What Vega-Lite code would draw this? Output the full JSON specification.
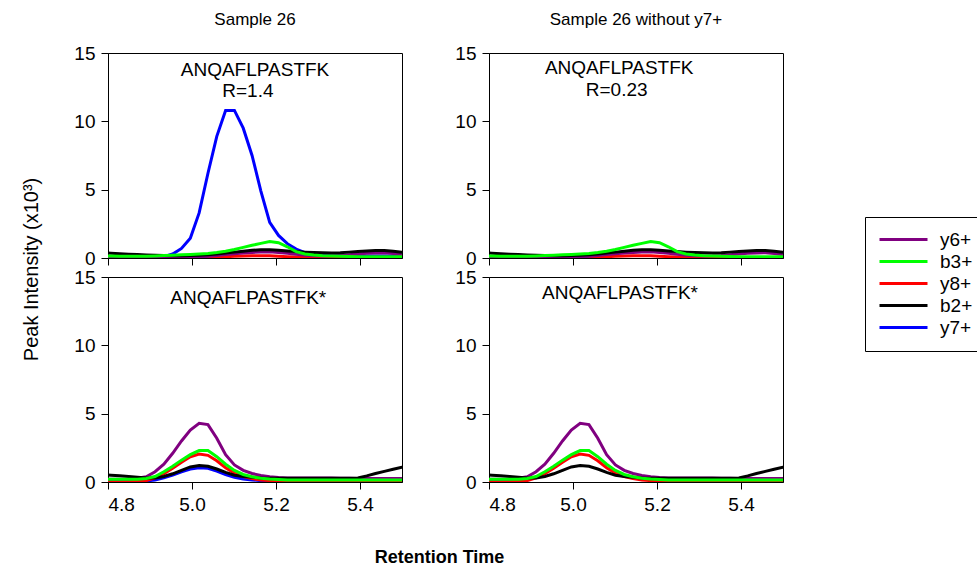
{
"$schema": "https://vega.github.io/schema/vega-lite/v6.json",
"padding": {"left": 20, "top": 10, "right": 0, "bottom": 5},
"background": "white",
"config": {
 "font": "Liberation Sans",
 "view": {"stroke": "black", "strokeWidth": 1},
 "axis": {"grid": false, "domainColor": "black", "tickColor": "black", "labelColor": "black", "titleColor": "black", "tickSize": 7, "labelFontSize": 19, "labelPadding": 6, "labelFont": "Liberation Sans", "titleFont": "Liberation Sans"},
 "title": {"fontSize": 17, "fontWeight": "normal", "font": "Liberation Sans", "color": "black", "offset": 15},
 "legend": {"orient": "none", "legendX": 757, "legendY": 164, "strokeColor": "black", "fillColor": "white", "padding": 13, "labelFontSize": 19, "labelFont": "Liberation Sans", "labelColor": "black", "symbolType": "M-1,0H5", "symbolSize": 256, "symbolStrokeWidth": 3, "labelOffset": 43, "rowPadding": 2, "cornerRadius": 0}
},
"data": {"values": [
{"pep":"light","ion":"y7+","t":4.786,"v":0.1},{"pep":"light","ion":"y7+","t":4.807,"v":0.08},{"pep":"light","ion":"y7+","t":4.828,"v":0.06},{"pep":"light","ion":"y7+","t":4.849,"v":0.05},{"pep":"light","ion":"y7+","t":4.870,"v":0.05},{"pep":"light","ion":"y7+","t":4.891,"v":0.05},{"pep":"light","ion":"y7+","t":4.912,"v":0.05},{"pep":"light","ion":"y7+","t":4.933,"v":0.1},{"pep":"light","ion":"y7+","t":4.954,"v":0.29},{"pep":"light","ion":"y7+","t":4.975,"v":0.7},{"pep":"light","ion":"y7+","t":4.996,"v":1.45},{"pep":"light","ion":"y7+","t":5.017,"v":3.3},{"pep":"light","ion":"y7+","t":5.038,"v":6.2},{"pep":"light","ion":"y7+","t":5.059,"v":8.9},{"pep":"light","ion":"y7+","t":5.080,"v":10.8},{"pep":"light","ion":"y7+","t":5.101,"v":10.8},{"pep":"light","ion":"y7+","t":5.122,"v":9.5},{"pep":"light","ion":"y7+","t":5.143,"v":7.5},{"pep":"light","ion":"y7+","t":5.164,"v":4.9},{"pep":"light","ion":"y7+","t":5.185,"v":2.6},{"pep":"light","ion":"y7+","t":5.206,"v":1.65},{"pep":"light","ion":"y7+","t":5.227,"v":1.05},{"pep":"light","ion":"y7+","t":5.248,"v":0.65},{"pep":"light","ion":"y7+","t":5.269,"v":0.4},{"pep":"light","ion":"y7+","t":5.290,"v":0.3},{"pep":"light","ion":"y7+","t":5.311,"v":0.25},{"pep":"light","ion":"y7+","t":5.332,"v":0.2},{"pep":"light","ion":"y7+","t":5.353,"v":0.18},{"pep":"light","ion":"y7+","t":5.374,"v":0.16},{"pep":"light","ion":"y7+","t":5.395,"v":0.15},{"pep":"light","ion":"y7+","t":5.416,"v":0.15},{"pep":"light","ion":"y7+","t":5.437,"v":0.15},{"pep":"light","ion":"y7+","t":5.458,"v":0.15},{"pep":"light","ion":"y7+","t":5.479,"v":0.15},{"pep":"light","ion":"y7+","t":5.500,"v":0.15},{"pep":"light","ion":"y7+","t":5.521,"v":0.15},
{"pep":"light","ion":"y8+","t":4.786,"v":0.02},{"pep":"light","ion":"y8+","t":4.807,"v":0.02},{"pep":"light","ion":"y8+","t":4.828,"v":0.02},{"pep":"light","ion":"y8+","t":4.849,"v":0.02},{"pep":"light","ion":"y8+","t":4.870,"v":0.02},{"pep":"light","ion":"y8+","t":4.891,"v":0.02},{"pep":"light","ion":"y8+","t":4.912,"v":0.02},{"pep":"light","ion":"y8+","t":4.933,"v":0.02},{"pep":"light","ion":"y8+","t":4.954,"v":0.02},{"pep":"light","ion":"y8+","t":4.975,"v":0.02},{"pep":"light","ion":"y8+","t":4.996,"v":0.02},{"pep":"light","ion":"y8+","t":5.017,"v":0.03},{"pep":"light","ion":"y8+","t":5.038,"v":0.05},{"pep":"light","ion":"y8+","t":5.059,"v":0.07},{"pep":"light","ion":"y8+","t":5.080,"v":0.1},{"pep":"light","ion":"y8+","t":5.101,"v":0.12},{"pep":"light","ion":"y8+","t":5.122,"v":0.14},{"pep":"light","ion":"y8+","t":5.143,"v":0.16},{"pep":"light","ion":"y8+","t":5.164,"v":0.17},{"pep":"light","ion":"y8+","t":5.185,"v":0.16},{"pep":"light","ion":"y8+","t":5.206,"v":0.13},{"pep":"light","ion":"y8+","t":5.227,"v":0.1},{"pep":"light","ion":"y8+","t":5.248,"v":0.07},{"pep":"light","ion":"y8+","t":5.269,"v":0.05},{"pep":"light","ion":"y8+","t":5.290,"v":0.04},{"pep":"light","ion":"y8+","t":5.311,"v":0.04},{"pep":"light","ion":"y8+","t":5.332,"v":0.04},{"pep":"light","ion":"y8+","t":5.353,"v":0.04},{"pep":"light","ion":"y8+","t":5.374,"v":0.04},{"pep":"light","ion":"y8+","t":5.395,"v":0.04},{"pep":"light","ion":"y8+","t":5.416,"v":0.04},{"pep":"light","ion":"y8+","t":5.437,"v":0.04},{"pep":"light","ion":"y8+","t":5.458,"v":0.04},{"pep":"light","ion":"y8+","t":5.479,"v":0.04},{"pep":"light","ion":"y8+","t":5.500,"v":0.04},{"pep":"light","ion":"y8+","t":5.521,"v":0.04},
{"pep":"light","ion":"y6+","t":4.786,"v":0.05},{"pep":"light","ion":"y6+","t":4.807,"v":0.05},{"pep":"light","ion":"y6+","t":4.828,"v":0.05},{"pep":"light","ion":"y6+","t":4.849,"v":0.05},{"pep":"light","ion":"y6+","t":4.870,"v":0.05},{"pep":"light","ion":"y6+","t":4.891,"v":0.05},{"pep":"light","ion":"y6+","t":4.912,"v":0.05},{"pep":"light","ion":"y6+","t":4.933,"v":0.05},{"pep":"light","ion":"y6+","t":4.954,"v":0.05},{"pep":"light","ion":"y6+","t":4.975,"v":0.05},{"pep":"light","ion":"y6+","t":4.996,"v":0.05},{"pep":"light","ion":"y6+","t":5.017,"v":0.08},{"pep":"light","ion":"y6+","t":5.038,"v":0.12},{"pep":"light","ion":"y6+","t":5.059,"v":0.18},{"pep":"light","ion":"y6+","t":5.080,"v":0.25},{"pep":"light","ion":"y6+","t":5.101,"v":0.31},{"pep":"light","ion":"y6+","t":5.122,"v":0.37},{"pep":"light","ion":"y6+","t":5.143,"v":0.41},{"pep":"light","ion":"y6+","t":5.164,"v":0.44},{"pep":"light","ion":"y6+","t":5.185,"v":0.45},{"pep":"light","ion":"y6+","t":5.206,"v":0.41},{"pep":"light","ion":"y6+","t":5.227,"v":0.34},{"pep":"light","ion":"y6+","t":5.248,"v":0.27},{"pep":"light","ion":"y6+","t":5.269,"v":0.21},{"pep":"light","ion":"y6+","t":5.290,"v":0.17},{"pep":"light","ion":"y6+","t":5.311,"v":0.15},{"pep":"light","ion":"y6+","t":5.332,"v":0.16},{"pep":"light","ion":"y6+","t":5.353,"v":0.19},{"pep":"light","ion":"y6+","t":5.374,"v":0.24},{"pep":"light","ion":"y6+","t":5.395,"v":0.29},{"pep":"light","ion":"y6+","t":5.416,"v":0.34},{"pep":"light","ion":"y6+","t":5.437,"v":0.37},{"pep":"light","ion":"y6+","t":5.458,"v":0.38},{"pep":"light","ion":"y6+","t":5.479,"v":0.33},{"pep":"light","ion":"y6+","t":5.500,"v":0.24},{"pep":"light","ion":"y6+","t":5.521,"v":0.19},
{"pep":"light","ion":"b2+","t":4.786,"v":0.38},{"pep":"light","ion":"b2+","t":4.807,"v":0.35},{"pep":"light","ion":"b2+","t":4.828,"v":0.31},{"pep":"light","ion":"b2+","t":4.849,"v":0.28},{"pep":"light","ion":"b2+","t":4.870,"v":0.25},{"pep":"light","ion":"b2+","t":4.891,"v":0.22},{"pep":"light","ion":"b2+","t":4.912,"v":0.2},{"pep":"light","ion":"b2+","t":4.933,"v":0.18},{"pep":"light","ion":"b2+","t":4.954,"v":0.17},{"pep":"light","ion":"b2+","t":4.975,"v":0.17},{"pep":"light","ion":"b2+","t":4.996,"v":0.18},{"pep":"light","ion":"b2+","t":5.017,"v":0.2},{"pep":"light","ion":"b2+","t":5.038,"v":0.24},{"pep":"light","ion":"b2+","t":5.059,"v":0.3},{"pep":"light","ion":"b2+","t":5.080,"v":0.36},{"pep":"light","ion":"b2+","t":5.101,"v":0.43},{"pep":"light","ion":"b2+","t":5.122,"v":0.5},{"pep":"light","ion":"b2+","t":5.143,"v":0.56},{"pep":"light","ion":"b2+","t":5.164,"v":0.6},{"pep":"light","ion":"b2+","t":5.185,"v":0.6},{"pep":"light","ion":"b2+","t":5.206,"v":0.57},{"pep":"light","ion":"b2+","t":5.227,"v":0.52},{"pep":"light","ion":"b2+","t":5.248,"v":0.47},{"pep":"light","ion":"b2+","t":5.269,"v":0.43},{"pep":"light","ion":"b2+","t":5.290,"v":0.4},{"pep":"light","ion":"b2+","t":5.311,"v":0.38},{"pep":"light","ion":"b2+","t":5.332,"v":0.37},{"pep":"light","ion":"b2+","t":5.353,"v":0.39},{"pep":"light","ion":"b2+","t":5.374,"v":0.43},{"pep":"light","ion":"b2+","t":5.395,"v":0.47},{"pep":"light","ion":"b2+","t":5.416,"v":0.51},{"pep":"light","ion":"b2+","t":5.437,"v":0.54},{"pep":"light","ion":"b2+","t":5.458,"v":0.55},{"pep":"light","ion":"b2+","t":5.479,"v":0.5},{"pep":"light","ion":"b2+","t":5.500,"v":0.42},{"pep":"light","ion":"b2+","t":5.521,"v":0.36},
{"pep":"light","ion":"b3+","t":4.786,"v":0.15},{"pep":"light","ion":"b3+","t":4.807,"v":0.14},{"pep":"light","ion":"b3+","t":4.828,"v":0.13},{"pep":"light","ion":"b3+","t":4.849,"v":0.12},{"pep":"light","ion":"b3+","t":4.870,"v":0.12},{"pep":"light","ion":"b3+","t":4.891,"v":0.13},{"pep":"light","ion":"b3+","t":4.912,"v":0.15},{"pep":"light","ion":"b3+","t":4.933,"v":0.18},{"pep":"light","ion":"b3+","t":4.954,"v":0.2},{"pep":"light","ion":"b3+","t":4.975,"v":0.23},{"pep":"light","ion":"b3+","t":4.996,"v":0.26},{"pep":"light","ion":"b3+","t":5.017,"v":0.29},{"pep":"light","ion":"b3+","t":5.038,"v":0.33},{"pep":"light","ion":"b3+","t":5.059,"v":0.4},{"pep":"light","ion":"b3+","t":5.080,"v":0.5},{"pep":"light","ion":"b3+","t":5.101,"v":0.62},{"pep":"light","ion":"b3+","t":5.122,"v":0.78},{"pep":"light","ion":"b3+","t":5.143,"v":0.93},{"pep":"light","ion":"b3+","t":5.164,"v":1.07},{"pep":"light","ion":"b3+","t":5.185,"v":1.2},{"pep":"light","ion":"b3+","t":5.206,"v":1.12},{"pep":"light","ion":"b3+","t":5.227,"v":0.82},{"pep":"light","ion":"b3+","t":5.248,"v":0.47},{"pep":"light","ion":"b3+","t":5.269,"v":0.3},{"pep":"light","ion":"b3+","t":5.290,"v":0.22},{"pep":"light","ion":"b3+","t":5.311,"v":0.17},{"pep":"light","ion":"b3+","t":5.332,"v":0.14},{"pep":"light","ion":"b3+","t":5.353,"v":0.12},{"pep":"light","ion":"b3+","t":5.374,"v":0.11},{"pep":"light","ion":"b3+","t":5.395,"v":0.1},{"pep":"light","ion":"b3+","t":5.416,"v":0.1},{"pep":"light","ion":"b3+","t":5.437,"v":0.1},{"pep":"light","ion":"b3+","t":5.458,"v":0.1},{"pep":"light","ion":"b3+","t":5.479,"v":0.1},{"pep":"light","ion":"b3+","t":5.500,"v":0.1},{"pep":"light","ion":"b3+","t":5.521,"v":0.1},
{"pep":"heavy","ion":"y7+","t":4.786,"v":0.05},{"pep":"heavy","ion":"y7+","t":4.807,"v":0.05},{"pep":"heavy","ion":"y7+","t":4.828,"v":0.05},{"pep":"heavy","ion":"y7+","t":4.849,"v":0.05},{"pep":"heavy","ion":"y7+","t":4.870,"v":0.05},{"pep":"heavy","ion":"y7+","t":4.891,"v":0.07},{"pep":"heavy","ion":"y7+","t":4.912,"v":0.15},{"pep":"heavy","ion":"y7+","t":4.933,"v":0.3},{"pep":"heavy","ion":"y7+","t":4.954,"v":0.5},{"pep":"heavy","ion":"y7+","t":4.975,"v":0.75},{"pep":"heavy","ion":"y7+","t":4.996,"v":0.95},{"pep":"heavy","ion":"y7+","t":5.017,"v":1.05},{"pep":"heavy","ion":"y7+","t":5.038,"v":1.0},{"pep":"heavy","ion":"y7+","t":5.059,"v":0.8},{"pep":"heavy","ion":"y7+","t":5.080,"v":0.55},{"pep":"heavy","ion":"y7+","t":5.101,"v":0.35},{"pep":"heavy","ion":"y7+","t":5.122,"v":0.22},{"pep":"heavy","ion":"y7+","t":5.143,"v":0.15},{"pep":"heavy","ion":"y7+","t":5.164,"v":0.1},{"pep":"heavy","ion":"y7+","t":5.185,"v":0.07},{"pep":"heavy","ion":"y7+","t":5.206,"v":0.05},{"pep":"heavy","ion":"y7+","t":5.227,"v":0.05},{"pep":"heavy","ion":"y7+","t":5.248,"v":0.05},{"pep":"heavy","ion":"y7+","t":5.269,"v":0.05},{"pep":"heavy","ion":"y7+","t":5.290,"v":0.05},{"pep":"heavy","ion":"y7+","t":5.311,"v":0.05},{"pep":"heavy","ion":"y7+","t":5.332,"v":0.05},{"pep":"heavy","ion":"y7+","t":5.353,"v":0.05},{"pep":"heavy","ion":"y7+","t":5.374,"v":0.05},{"pep":"heavy","ion":"y7+","t":5.395,"v":0.05},{"pep":"heavy","ion":"y7+","t":5.416,"v":0.05},{"pep":"heavy","ion":"y7+","t":5.437,"v":0.05},{"pep":"heavy","ion":"y7+","t":5.458,"v":0.05},{"pep":"heavy","ion":"y7+","t":5.479,"v":0.05},{"pep":"heavy","ion":"y7+","t":5.500,"v":0.05},{"pep":"heavy","ion":"y7+","t":5.521,"v":0.05},
{"pep":"heavy","ion":"y8+","t":4.786,"v":0.05},{"pep":"heavy","ion":"y8+","t":4.807,"v":0.05},{"pep":"heavy","ion":"y8+","t":4.828,"v":0.05},{"pep":"heavy","ion":"y8+","t":4.849,"v":0.05},{"pep":"heavy","ion":"y8+","t":4.870,"v":0.06},{"pep":"heavy","ion":"y8+","t":4.891,"v":0.1},{"pep":"heavy","ion":"y8+","t":4.912,"v":0.3},{"pep":"heavy","ion":"y8+","t":4.933,"v":0.6},{"pep":"heavy","ion":"y8+","t":4.954,"v":1.0},{"pep":"heavy","ion":"y8+","t":4.975,"v":1.45},{"pep":"heavy","ion":"y8+","t":4.996,"v":1.85},{"pep":"heavy","ion":"y8+","t":5.017,"v":2.05},{"pep":"heavy","ion":"y8+","t":5.038,"v":1.95},{"pep":"heavy","ion":"y8+","t":5.059,"v":1.55},{"pep":"heavy","ion":"y8+","t":5.080,"v":1.05},{"pep":"heavy","ion":"y8+","t":5.101,"v":0.65},{"pep":"heavy","ion":"y8+","t":5.122,"v":0.4},{"pep":"heavy","ion":"y8+","t":5.143,"v":0.25},{"pep":"heavy","ion":"y8+","t":5.164,"v":0.15},{"pep":"heavy","ion":"y8+","t":5.185,"v":0.1},{"pep":"heavy","ion":"y8+","t":5.206,"v":0.07},{"pep":"heavy","ion":"y8+","t":5.227,"v":0.05},{"pep":"heavy","ion":"y8+","t":5.248,"v":0.05},{"pep":"heavy","ion":"y8+","t":5.269,"v":0.05},{"pep":"heavy","ion":"y8+","t":5.290,"v":0.05},{"pep":"heavy","ion":"y8+","t":5.311,"v":0.05},{"pep":"heavy","ion":"y8+","t":5.332,"v":0.05},{"pep":"heavy","ion":"y8+","t":5.353,"v":0.05},{"pep":"heavy","ion":"y8+","t":5.374,"v":0.05},{"pep":"heavy","ion":"y8+","t":5.395,"v":0.05},{"pep":"heavy","ion":"y8+","t":5.416,"v":0.05},{"pep":"heavy","ion":"y8+","t":5.437,"v":0.05},{"pep":"heavy","ion":"y8+","t":5.458,"v":0.05},{"pep":"heavy","ion":"y8+","t":5.479,"v":0.05},{"pep":"heavy","ion":"y8+","t":5.500,"v":0.05},{"pep":"heavy","ion":"y8+","t":5.521,"v":0.05},
{"pep":"heavy","ion":"y6+","t":4.786,"v":0.2},{"pep":"heavy","ion":"y6+","t":4.807,"v":0.2},{"pep":"heavy","ion":"y6+","t":4.828,"v":0.2},{"pep":"heavy","ion":"y6+","t":4.849,"v":0.22},{"pep":"heavy","ion":"y6+","t":4.870,"v":0.27},{"pep":"heavy","ion":"y6+","t":4.891,"v":0.38},{"pep":"heavy","ion":"y6+","t":4.912,"v":0.75},{"pep":"heavy","ion":"y6+","t":4.933,"v":1.3},{"pep":"heavy","ion":"y6+","t":4.954,"v":2.1},{"pep":"heavy","ion":"y6+","t":4.975,"v":3.0},{"pep":"heavy","ion":"y6+","t":4.996,"v":3.8},{"pep":"heavy","ion":"y6+","t":5.017,"v":4.3},{"pep":"heavy","ion":"y6+","t":5.038,"v":4.2},{"pep":"heavy","ion":"y6+","t":5.059,"v":3.2},{"pep":"heavy","ion":"y6+","t":5.080,"v":2.0},{"pep":"heavy","ion":"y6+","t":5.101,"v":1.25},{"pep":"heavy","ion":"y6+","t":5.122,"v":0.85},{"pep":"heavy","ion":"y6+","t":5.143,"v":0.62},{"pep":"heavy","ion":"y6+","t":5.164,"v":0.48},{"pep":"heavy","ion":"y6+","t":5.185,"v":0.38},{"pep":"heavy","ion":"y6+","t":5.206,"v":0.33},{"pep":"heavy","ion":"y6+","t":5.227,"v":0.3},{"pep":"heavy","ion":"y6+","t":5.248,"v":0.3},{"pep":"heavy","ion":"y6+","t":5.269,"v":0.3},{"pep":"heavy","ion":"y6+","t":5.290,"v":0.3},{"pep":"heavy","ion":"y6+","t":5.311,"v":0.3},{"pep":"heavy","ion":"y6+","t":5.332,"v":0.3},{"pep":"heavy","ion":"y6+","t":5.353,"v":0.28},{"pep":"heavy","ion":"y6+","t":5.374,"v":0.27},{"pep":"heavy","ion":"y6+","t":5.395,"v":0.26},{"pep":"heavy","ion":"y6+","t":5.416,"v":0.26},{"pep":"heavy","ion":"y6+","t":5.437,"v":0.26},{"pep":"heavy","ion":"y6+","t":5.458,"v":0.26},{"pep":"heavy","ion":"y6+","t":5.479,"v":0.26},{"pep":"heavy","ion":"y6+","t":5.500,"v":0.26},{"pep":"heavy","ion":"y6+","t":5.521,"v":0.26},
{"pep":"heavy","ion":"b2+","t":4.786,"v":0.55},{"pep":"heavy","ion":"b2+","t":4.807,"v":0.5},{"pep":"heavy","ion":"b2+","t":4.828,"v":0.45},{"pep":"heavy","ion":"b2+","t":4.849,"v":0.4},{"pep":"heavy","ion":"b2+","t":4.870,"v":0.35},{"pep":"heavy","ion":"b2+","t":4.891,"v":0.3},{"pep":"heavy","ion":"b2+","t":4.912,"v":0.3},{"pep":"heavy","ion":"b2+","t":4.933,"v":0.4},{"pep":"heavy","ion":"b2+","t":4.954,"v":0.6},{"pep":"heavy","ion":"b2+","t":4.975,"v":0.85},{"pep":"heavy","ion":"b2+","t":4.996,"v":1.1},{"pep":"heavy","ion":"b2+","t":5.017,"v":1.2},{"pep":"heavy","ion":"b2+","t":5.038,"v":1.15},{"pep":"heavy","ion":"b2+","t":5.059,"v":0.95},{"pep":"heavy","ion":"b2+","t":5.080,"v":0.7},{"pep":"heavy","ion":"b2+","t":5.101,"v":0.5},{"pep":"heavy","ion":"b2+","t":5.122,"v":0.4},{"pep":"heavy","ion":"b2+","t":5.143,"v":0.35},{"pep":"heavy","ion":"b2+","t":5.164,"v":0.3},{"pep":"heavy","ion":"b2+","t":5.185,"v":0.28},{"pep":"heavy","ion":"b2+","t":5.206,"v":0.27},{"pep":"heavy","ion":"b2+","t":5.227,"v":0.27},{"pep":"heavy","ion":"b2+","t":5.248,"v":0.27},{"pep":"heavy","ion":"b2+","t":5.269,"v":0.27},{"pep":"heavy","ion":"b2+","t":5.290,"v":0.27},{"pep":"heavy","ion":"b2+","t":5.311,"v":0.27},{"pep":"heavy","ion":"b2+","t":5.332,"v":0.27},{"pep":"heavy","ion":"b2+","t":5.353,"v":0.27},{"pep":"heavy","ion":"b2+","t":5.374,"v":0.27},{"pep":"heavy","ion":"b2+","t":5.395,"v":0.3},{"pep":"heavy","ion":"b2+","t":5.416,"v":0.45},{"pep":"heavy","ion":"b2+","t":5.437,"v":0.62},{"pep":"heavy","ion":"b2+","t":5.458,"v":0.78},{"pep":"heavy","ion":"b2+","t":5.479,"v":0.93},{"pep":"heavy","ion":"b2+","t":5.500,"v":1.08},{"pep":"heavy","ion":"b2+","t":5.521,"v":1.2},
{"pep":"heavy","ion":"b3+","t":4.786,"v":0.2},{"pep":"heavy","ion":"b3+","t":4.807,"v":0.2},{"pep":"heavy","ion":"b3+","t":4.828,"v":0.2},{"pep":"heavy","ion":"b3+","t":4.849,"v":0.2},{"pep":"heavy","ion":"b3+","t":4.870,"v":0.2},{"pep":"heavy","ion":"b3+","t":4.891,"v":0.25},{"pep":"heavy","ion":"b3+","t":4.912,"v":0.4},{"pep":"heavy","ion":"b3+","t":4.933,"v":0.75},{"pep":"heavy","ion":"b3+","t":4.954,"v":1.15},{"pep":"heavy","ion":"b3+","t":4.975,"v":1.6},{"pep":"heavy","ion":"b3+","t":4.996,"v":2.0},{"pep":"heavy","ion":"b3+","t":5.017,"v":2.3},{"pep":"heavy","ion":"b3+","t":5.038,"v":2.3},{"pep":"heavy","ion":"b3+","t":5.059,"v":1.85},{"pep":"heavy","ion":"b3+","t":5.080,"v":1.3},{"pep":"heavy","ion":"b3+","t":5.101,"v":0.85},{"pep":"heavy","ion":"b3+","t":5.122,"v":0.55},{"pep":"heavy","ion":"b3+","t":5.143,"v":0.38},{"pep":"heavy","ion":"b3+","t":5.164,"v":0.28},{"pep":"heavy","ion":"b3+","t":5.185,"v":0.22},{"pep":"heavy","ion":"b3+","t":5.206,"v":0.18},{"pep":"heavy","ion":"b3+","t":5.227,"v":0.15},{"pep":"heavy","ion":"b3+","t":5.248,"v":0.15},{"pep":"heavy","ion":"b3+","t":5.269,"v":0.15},{"pep":"heavy","ion":"b3+","t":5.290,"v":0.15},{"pep":"heavy","ion":"b3+","t":5.311,"v":0.15},{"pep":"heavy","ion":"b3+","t":5.332,"v":0.15},{"pep":"heavy","ion":"b3+","t":5.353,"v":0.15},{"pep":"heavy","ion":"b3+","t":5.374,"v":0.15},{"pep":"heavy","ion":"b3+","t":5.395,"v":0.15},{"pep":"heavy","ion":"b3+","t":5.416,"v":0.15},{"pep":"heavy","ion":"b3+","t":5.437,"v":0.15},{"pep":"heavy","ion":"b3+","t":5.458,"v":0.15},{"pep":"heavy","ion":"b3+","t":5.479,"v":0.15},{"pep":"heavy","ion":"b3+","t":5.500,"v":0.15},{"pep":"heavy","ion":"b3+","t":5.521,"v":0.15}
]},
"bounds": "flush",
"columns": 2,
"spacing": {"row": 19, "column": 87},
"concat": [
  {"title": {"text": "Sample 26"}, "width": 294, "height": 205, "layer": [
   {"transform": [{"filter": "datum.pep == 'light'"}], "mark": {"type": "line", "strokeWidth": 3, "clip": true},
    "encoding": {
     "x": {"field": "t", "type": "quantitative", "scale": {"domain": [4.8, 5.5], "nice": false, "zero": false}, "axis": {"values": [4.8, 5.0, 5.2, 5.4], "labels": false, "title": null}},
     "y": {"field": "v", "type": "quantitative", "scale": {"domain": [0, 15], "nice": false}, "axis": {"values": [0, 5, 10, 15], "title": "Peak Intensity (x10³)", "titleFontSize": 20, "titleFontWeight": "normal", "titleX": -77, "titleY": 216, "titleBaseline": "middle", "titleAlign": "center", "titleAngle": -90}},
     "color": {"field": "ion", "type": "nominal", "scale": {"domain": ["y6+", "b3+", "y8+", "b2+", "y7+"], "range": ["#800080", "#00ff00", "#ff0000", "#000000", "#0000ff"]}, "legend": {"title": null}}
    }},
   {"data": {"values": [{}]}, "mark": {"type": "text", "fontSize": 19, "font": "Liberation Sans"}, "encoding": {"x": {"datum": 5.15}, "y": {"datum": 13.76}, "text": {"value": "ANQAFLPASTFK"}}},
   {"data": {"values": [{}]}, "mark": {"type": "text", "fontSize": 19, "font": "Liberation Sans"}, "encoding": {"x": {"datum": 5.133}, "y": {"datum": 12.23}, "text": {"value": "R=1.4"}}}
  ]},
  {"title": {"text": "Sample 26 without y7+"}, "width": 294, "height": 205, "layer": [
   {"transform": [{"filter": "datum.pep == 'light' && datum.ion != 'y7+'"}], "mark": {"type": "line", "strokeWidth": 3, "clip": true},
    "encoding": {
     "x": {"field": "t", "type": "quantitative", "scale": {"domain": [4.8, 5.5], "nice": false, "zero": false}, "axis": {"values": [4.8, 5.0, 5.2, 5.4], "labels": false, "title": null}},
     "y": {"field": "v", "type": "quantitative", "scale": {"domain": [0, 15], "nice": false}, "axis": {"values": [0, 5, 10, 15], "title": null}},
     "color": {"field": "ion", "type": "nominal", "scale": {"domain": ["y6+", "b3+", "y8+", "b2+", "y7+"], "range": ["#800080", "#00ff00", "#ff0000", "#000000", "#0000ff"]}, "legend": {"title": null}}
    }},
   {"data": {"values": [{}]}, "mark": {"type": "text", "fontSize": 19, "font": "Liberation Sans"}, "encoding": {"x": {"datum": 5.11}, "y": {"datum": 13.9}, "text": {"value": "ANQAFLPASTFK"}}},
   {"data": {"values": [{}]}, "mark": {"type": "text", "fontSize": 19, "font": "Liberation Sans"}, "encoding": {"x": {"datum": 5.104}, "y": {"datum": 12.3}, "text": {"value": "R=0.23"}}}
  ]},
  {"width": 294, "height": 205, "layer": [
   {"transform": [{"filter": "datum.pep == 'heavy'"}], "mark": {"type": "line", "strokeWidth": 3, "clip": true},
    "encoding": {
     "x": {"field": "t", "type": "quantitative", "scale": {"domain": [4.8, 5.5], "nice": false, "zero": false}, "axis": {"values": [4.8, 5.0, 5.2, 5.4], "format": ".1f", "title": "Retention Time", "titleFontSize": 18, "titleFontWeight": "bold", "titleX": 331, "titleY": 75, "titleBaseline": "middle", "titleAlign": "center"}},
     "y": {"field": "v", "type": "quantitative", "scale": {"domain": [0, 15], "nice": false}, "axis": {"values": [0, 5, 10, 15], "title": null}},
     "color": {"field": "ion", "type": "nominal", "scale": {"domain": ["y6+", "b3+", "y8+", "b2+", "y7+"], "range": ["#800080", "#00ff00", "#ff0000", "#000000", "#0000ff"]}, "legend": {"title": null}}
    }},
   {"data": {"values": [{}]}, "mark": {"type": "text", "fontSize": 19, "font": "Liberation Sans"}, "encoding": {"x": {"datum": 5.134}, "y": {"datum": 13.44}, "text": {"value": "ANQAFLPASTFK*"}}}
  ]},
  {"width": 294, "height": 205, "layer": [
   {"transform": [{"filter": "datum.pep == 'heavy' && datum.ion != 'y7+'"}], "mark": {"type": "line", "strokeWidth": 3, "clip": true},
    "encoding": {
     "x": {"field": "t", "type": "quantitative", "scale": {"domain": [4.8, 5.5], "nice": false, "zero": false}, "axis": {"values": [4.8, 5.0, 5.2, 5.4], "format": ".1f", "title": null}},
     "y": {"field": "v", "type": "quantitative", "scale": {"domain": [0, 15], "nice": false}, "axis": {"values": [0, 5, 10, 15], "title": null}},
     "color": {"field": "ion", "type": "nominal", "scale": {"domain": ["y6+", "b3+", "y8+", "b2+", "y7+"], "range": ["#800080", "#00ff00", "#ff0000", "#000000", "#0000ff"]}, "legend": {"title": null}}
    }},
   {"data": {"values": [{}]}, "mark": {"type": "text", "fontSize": 19, "font": "Liberation Sans"}, "encoding": {"x": {"datum": 5.112}, "y": {"datum": 13.8}, "text": {"value": "ANQAFLPASTFK*"}}}
  ]}
]
}
